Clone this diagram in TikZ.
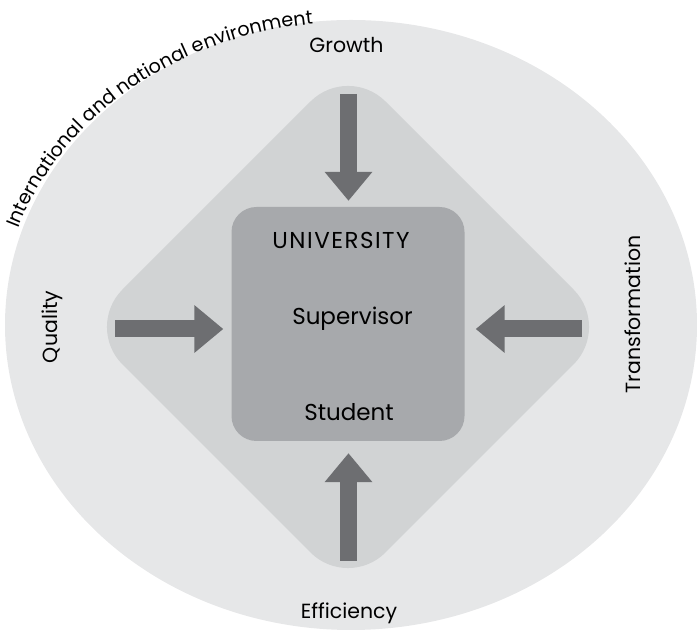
\documentclass[tikz,border=0pt]{standalone}
\usepackage{fontspec}
\setmainfont{Poppins}
\usetikzlibrary{arrows.meta,decorations.text}
\definecolor{envgray}{HTML}{E6E7E8}
\definecolor{diagray}{HTML}{D1D3D4}
\definecolor{boxgray}{HTML}{A7A9AC}
\definecolor{arrgray}{HTML}{6D6E71}
\begin{document}
\begin{tikzpicture}[x=1pt,y=1pt,
  outertext/.style={font=\fontsize{20.5}{24}\selectfont, inner sep=0pt},
  innertext/.style={font=\fontsize{23}{27}\selectfont, inner sep=0pt},
  bigarrow/.style={draw=arrgray, line width=17pt, -{Triangle[length=29pt,width=46pt]}}]
\useasboundingbox (0,0) rectangle (697,631);
% environment ellipse
\fill[envgray] (351,306) ellipse [x radius=346pt, y radius=305pt];
% diamond
\fill[diagray, rounded corners=53pt] (216.5,435.5) -- (348,567) -- (611,304) -- (348,41) -- (85,304) -- cycle;
% university box
\node[fill=boxgray, rounded corners=25pt, minimum width=233pt, minimum height=234pt, inner sep=0pt] (univ) at (348,307) {};
% arrows
\coordinate (gtail) at (348.5,537);
\coordinate (etail) at (348.5,70);
\coordinate (qtail) at (115,302);
\coordinate (ttail) at (582,302);
\draw[bigarrow, shorten >=6pt] (gtail) -- (gtail |- univ.north);
\draw[bigarrow, shorten >=12pt] (etail) -- (etail |- univ.south);
\draw[bigarrow, shorten >=8pt] (qtail) -- (qtail -| univ.west);
\draw[bigarrow, shorten >=11pt] (ttail) -- (ttail -| univ.east);
% labels
\node[outertext, anchor=base] (growth) at (346.5,578) {Growth};
\node[outertext, anchor=base] (eff) at (349,12) {Efficiency};
\node[outertext, anchor=base, rotate=90] (qual) at (57,304) {Quality};
\node[outertext, anchor=base, rotate=90] (trans) at (640,316.5) {Transformation};
\node[innertext, anchor=base, font=\fontsize{23}{27}\selectfont\addfontfeatures{LetterSpace=6.5}] (uni) at (341,382) {UNIVERSITY};
\node[innertext, anchor=base] (sup) at (352.5,306) {Supervisor};
\node[innertext, anchor=base] (stu) at (349,210) {Student};
% curved environment label
\path[decorate, decoration={text along path, text align=left,
  text={|\fontsize{19.2}{22}\selectfont|International and national environment}}]
  (352,306) ++(161.5:352pt and 303pt) arc[start angle=161.5, end angle=75, x radius=352pt, y radius=303pt];
\end{tikzpicture}
\end{document}
